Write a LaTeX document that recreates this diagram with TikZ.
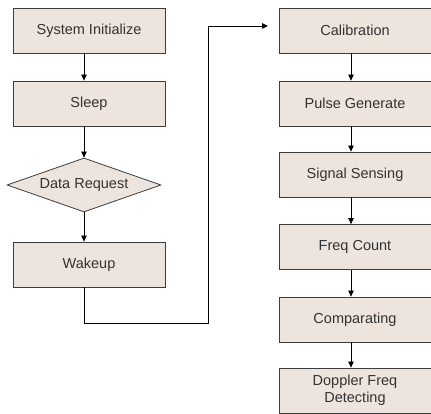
\documentclass[tikz,border=0pt]{standalone}
\usepackage{fontspec}
\setmainfont{Liberation Sans}
\usetikzlibrary{shapes.geometric,arrows.meta}
\definecolor{boxfill}{RGB}{237,228,222}
\definecolor{boxline}{RGB}{60,60,60}
\definecolor{txt}{RGB}{50,50,50}
\begin{document}
\begin{tikzpicture}[x=1pt,y=1pt,
  lbl/.style={text=txt, font=\fontsize{14.5}{16}\selectfont},
  stepbox/.style={draw=boxline, fill=boxfill, line width=0.8pt, minimum width=152pt, minimum height=45pt, inner sep=0pt, lbl, align=center},
  decbox/.style={draw=boxline, fill=boxfill, line width=0.8pt, diamond, minimum width=154pt, minimum height=54pt, inner sep=0pt},
  arr/.style={draw=black, line width=0.8pt, -{Triangle[length=6pt,width=5.5pt]}}
]
\useasboundingbox (0,0) rectangle (431,414);
% left column
\node[stepbox] (si) at (89,414-30.5) {System Initialize};
\node[stepbox] (sl) at (89,414-103.5) {Sleep};
\node[decbox] (dr) at (84,414-185) {};
\node[lbl] (drt) at (dr.center) {Data Request};
\node[stepbox] (wk) at (89,414-264.5) {Wakeup};
% right column
\node[stepbox] (ca) at (355,414-30.5) {Calibration};
\node[stepbox] (pg) at (355,414-103.5) {Pulse Generate};
\node[stepbox] (ss) at (355,414-174.5) {Signal Sensing};
\node[stepbox] (fc) at (355,414-247) {Freq Count};
\node[stepbox] (cp) at (355,414-319.5) {Comparating};
\node[stepbox] (dd) at (355,414-390.5) {Doppler Freq\\[1pt]Detecting};
% connectors
\draw[arr] ([xshift=-5pt]si.south) -- ([xshift=-5pt]sl.north);
\draw[arr] ([xshift=-5pt]sl.south) -- (dr.north);
\draw[arr] (dr.south) -- ([xshift=-5pt]wk.north);
\coordinate (c1) at (84,414-323);
\coordinate (c2) at (208,414-323);
\coordinate (c3) at (208,414-26);
\coordinate (c4) at (268,414-26);
\draw[arr] ([xshift=-5pt]wk.south) -- (c1) -- (c2) -- (c3) -- (c4);
\draw[arr] ([xshift=-4pt]ca.south) -- ([xshift=-4pt]pg.north);
\draw[arr] ([xshift=-4pt]pg.south) -- ([xshift=-4pt]ss.north);
\draw[arr] ([xshift=-4pt]ss.south) -- ([xshift=-4pt]fc.north);
\draw[arr] ([xshift=-4pt]fc.south) -- ([xshift=-4pt]cp.north);
\draw[arr] ([xshift=-4pt]cp.south) -- ([xshift=-4pt]dd.north);
\end{tikzpicture}
\end{document}
